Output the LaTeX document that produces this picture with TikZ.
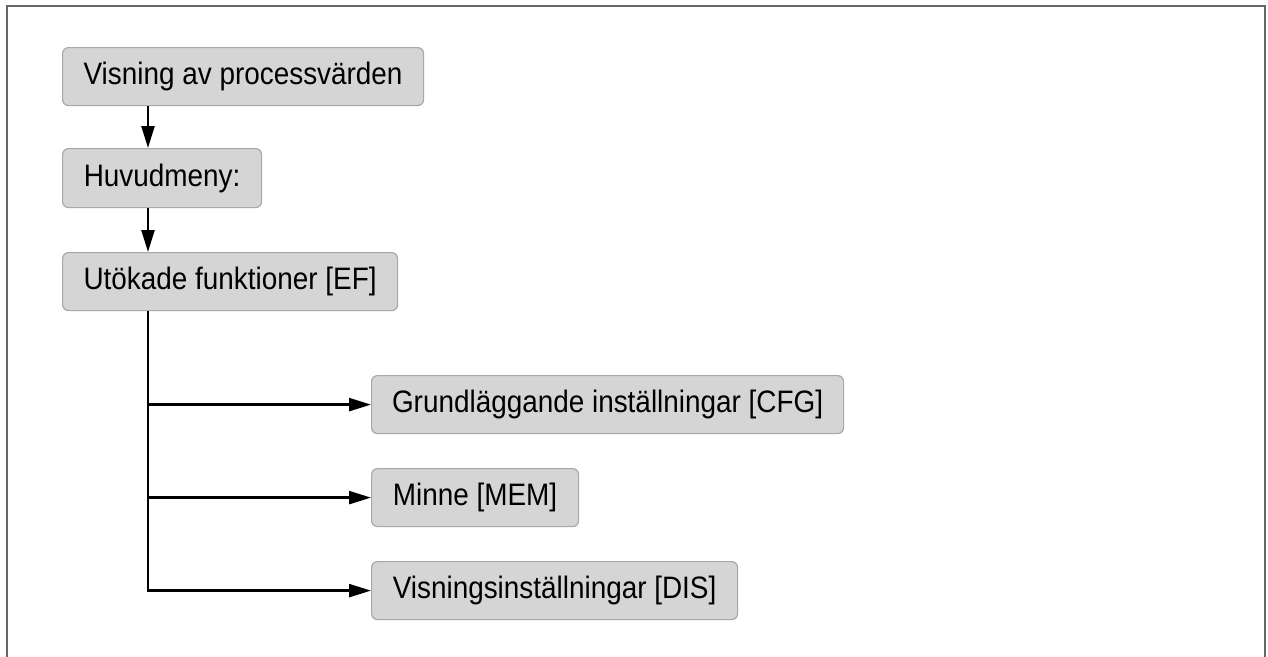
\documentclass[tikz,border=0pt]{standalone}
\usepackage{fontspec}
\setmainfont{Liberation Sans}[FakeStretch=0.9]
\usetikzlibrary{arrows.meta}
\definecolor{boxfill}{HTML}{D5D5D5}
\definecolor{boxline}{HTML}{A8A8A8}
\definecolor{frameline}{HTML}{666666}
\begin{document}
\begin{tikzpicture}[x=1pt,y=-1pt,
  menubox/.style={draw=boxline, line width=1.2pt, fill=boxfill, rounded corners=6pt,
    inner sep=0pt, anchor=north west, font=\fontsize{31}{37}\selectfont},
  arr/.style={line width=2.4pt, -{Triangle[length=22pt,width=13pt]}}]
\useasboundingbox (0,0) rectangle (1268,656);
\fill[white] (0,0) rectangle (1268,656);
\draw[frameline, line width=2.2pt] (7,660) -- (7,6) -- (1265,6) -- (1265,660);
\node[menubox, minimum width=361pt, minimum height=58pt] (b1) at (62,47) {Visning av processvärden};
\node[menubox, minimum width=199pt, minimum height=59pt] (b2) at (62,148) {Huvudmeny:};
\node[menubox, minimum width=335pt, minimum height=58pt] (b3) at (62,252) {Utökade funktioner [EF]};
\node[menubox, minimum width=472pt, minimum height=58pt] (b4) at (371,375) {Grundläggande inställningar [CFG]};
\node[menubox, minimum width=207pt, minimum height=58pt] (b5) at (371,468) {Minne [MEM]};
\node[menubox, minimum width=366pt, minimum height=58pt] (b6) at (371,561) {Visningsinställningar [DIS]};
\coordinate (t) at (148,0);
\draw[arr] (b1.south -| t) -- (b2.north -| t);
\draw[arr] (b2.south -| t) -- (b3.north -| t);
\draw[arr] (b3.south -| t) |- (b6.west);
\draw[arr] (t |- b4.west) -- (b4.west);
\draw[arr] (t |- b5.west) -- (b5.west);
\end{tikzpicture}
\end{document}
